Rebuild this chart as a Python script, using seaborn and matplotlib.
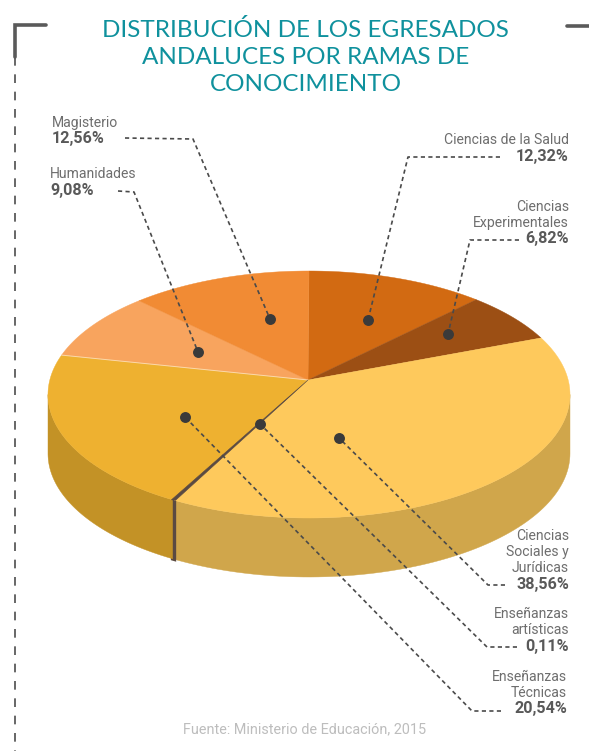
import numpy as np
import pandas as pd
import matplotlib
matplotlib.use("Agg")
import matplotlib.pyplot as plt
import seaborn as sns

# === Datos (en sentido horario desde las 12) ===
ramas = ["Ciencias de la Salud", "Ciencias\nExperimentales", "Ciencias\nSociales y\nJurídicas",
         "Enseñanzas\nartísticas", "Enseñanzas\nTécnicas", "Humanidades", "Magisterio"]
valores = [12.32, 6.82, 38.56, 0.11, 20.54, 9.08, 12.56]
colores = ["#D26A12", "#9C4F14", "#FEC95C", "#5A4A42", "#EEB130", "#F8A45E", "#F18B34"]
colores_lado = ["#B05A10", "#85430F", "#D0A64B", "#5A4A42", "#C39226", "#D08A4E", "#C9742B"]
titulo = "DISTRIBUCIÓN DE LOS EGRESADOS\nANDALUCES POR RAMAS DE\nCONOCIMIENTO"
fuente = "Fuente: Ministerio de Educación, 2015"

# === Posiciones de etiquetas y guías (en píxeles) ===
# rama: (x texto, y última línea, alineación, guía)
anotaciones = {
    "Ciencias de la Salud": (569, 156, "right", [(500, 157), (408, 157), (368, 320)]),
    "Ciencias\nExperimentales": (569, 239, "right", [(519, 240), (470, 240), (448, 334)]),
    "Ciencias\nSociales y\nJurídicas": (569, 584, "right", [(505, 585), (488, 585), (339, 438)]),
    "Enseñanzas\nartísticas": (569, 646, "right", [(517, 647), (487, 647), (260, 424)]),
    "Enseñanzas\nTécnicas": (567, 709, "right", [(501, 711), (472, 711), (185, 417)]),
    "Humanidades": (50, 190, "left", [(118, 191), (134, 192), (198, 352)]),
    "Magisterio": (52, 139, "left", [(125, 138), (193, 139), (270, 319)]),
}

# === Geometría de la tarta en perspectiva ===
cx, cy = 309, 394.5   # centro de la elipse
rx, ry = 261, 123.5
desfase = 14.5        # el vértice queda por encima del centro de la elipse
grosor = 59
c = desfase / ry
s = rx * np.sqrt(1 - c ** 2)


def proyecta(theta):
    # circulo -> elipse con homografia (theta en radianes, horario desde arriba)
    u, v = np.sin(theta), np.cos(theta)
    d = 1 + c * v
    return cx + s * u / d, cy - (ry * v + desfase) / d


sns.set_theme(style="white")
plt.rcParams["font.family"] = ["Roboto", "DejaVu Sans"]

fig = plt.figure(figsize=(5.89, 7.51), dpi=100)
ax = fig.add_axes([0, 0, 1, 1])
ax.set_xlim(0, 589)
ax.set_ylim(751, 0)
ax.axis("off")

# === Lado y cara superior de cada porción ===
bordes = np.radians(np.concatenate([[0], np.cumsum(valores)]) / sum(valores) * 360)
lim_a, lim_b = np.arccos(-c), 2 * np.pi - np.arccos(-c)  # tramo visible de la pared

for i in range(len(valores)):
    a, b = bordes[i], bordes[i + 1]
    ini, fin = max(a, lim_a), min(b, lim_b)
    if fin > ini:
        t = np.linspace(ini, fin, 80)
        x, y = proyecta(t)
        ax.fill(np.r_[x, x[::-1]], np.r_[y, y[::-1] + grosor], color=colores_lado[i],
                lw=2.6 if valores[i] < 1 else 0.3, zorder=1)

for i in range(len(valores)):
    if valores[i] < 1:
        continue
    t = np.linspace(bordes[i], bordes[i + 1], 120)
    x, y = proyecta(t)
    ax.fill(np.r_[cx - 1, x], np.r_[cy - desfase, y], color=colores[i], lw=0.3, zorder=2)

# linea clara entre Humanidades y Técnicas
x_h, y_h = proyecta(bordes[5])
ax.plot([cx - 1, x_h], [cy - desfase, y_h], color="#FBD9A8", lw=0.7, zorder=2.5)

# la porción mínima (artísticas) se dibuja encima con punta fina
x_a, y_a = proyecta(bordes[3:5])
ax.fill(np.r_[cx - 1, x_a[0] + 1.2, x_a[1] - 1.2], np.r_[cy - desfase, y_a[0], y_a[1]],
        color=colores[3], lw=0.4, zorder=3)

# === Guías y puntos ===
puntos = []
for rama in ramas:
    guia = np.array(anotaciones[rama][3])
    ax.plot(guia[:, 0], guia[:, 1], color="#4A4A4A", lw=1.2, dashes=(2.5, 2.0), zorder=4)
    puntos.append(guia[-1])
puntos = pd.DataFrame(puntos, columns=["x", "y"])
sns.scatterplot(data=puntos, x="x", y="y", s=62, color="#3A3A3A", linewidth=0, ax=ax, zorder=5)
ax.set_xlim(0, 589)
ax.set_ylim(751, 0)
ax.axis("off")

# === Etiquetas ===
for rama, valor in zip(ramas, valores):
    x, y, ha, _ = anotaciones[rama]
    ax.text(x, y, f"{valor:.2f}%".replace(".", ","), ha=ha, va="center", fontsize=11.6,
            fontweight="bold", color="#595959")
    for n, linea in enumerate(rama.split("\n")[::-1]):
        ax.text(x, y - 16 * (n + 1), linea, ha=ha, va="center", fontsize=10.1, color="#6E6E6E")

# === Título y pie ===
ax.text(305.5, 57, titulo, ha="center", va="center", fontsize=17.5, color="#0F919D",
        family=["Lato", "DejaVu Sans"], linespacing=1.38)
ax.text(305, 729, fuente, ha="center", va="center", fontsize=10.4, color="#BDBDBD")

# === Marco ===
ax.plot([46, 15, 15], [25, 25, 57], color="#5A5A5A", lw=2.6, solid_joinstyle="miter", zorder=6)
ax.plot([15, 15], [57, 751], color="#5A5A5A", lw=1.3, dashes=(4.8, 4.8), zorder=6)
ax.plot([567, 589], [26, 26], color="#5A5A5A", lw=2.6, zorder=6)

fig.savefig("out.png", dpi=100)
